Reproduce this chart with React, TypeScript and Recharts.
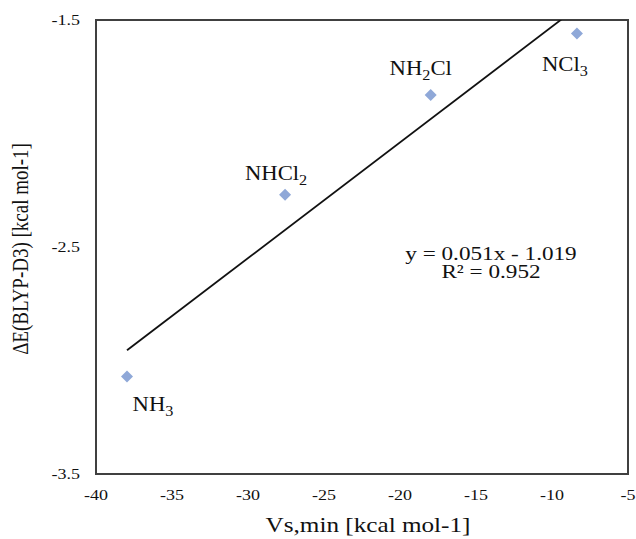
import {
    ScatterChart,
    Scatter,
    XAxis,
    YAxis,
    ReferenceLine,
    ReferenceArea,
    LabelList
} from 'recharts';

// Vs,min values and energies
const names = ['NH_3', 'NHCl_2', 'NH_2Cl', 'NCl_3'];
const vsMin = [-37.96, -27.56, -17.98, -8.36];
const deltaE = [-3.07, -2.27, -1.83, -1.56];

const xTicks = [-40, -35, -30, -25, -20, -15, -10, -5];
const yTicks = [-3.5, -2.5, -1.5];

// linear trendline as printed on the chart
const slope = 0.051;
const intercept = -1.019;
const eqText = 'y = 0.051x - 1.019';
const r2Text = 'R² = 0.952';

// where each label sits relative to its point (px)
const labelOffsets = [
    [26, 28],
    [-9, -22],
    [-10, -27],
    [-12, 30]
];

const data = names.map((name, i) => ({ name, x: vsMin[i], y: deltaE[i], idx: i }));

const xMin = Math.min(...vsMin);
const xMax = Math.max(...vsMin);
const trend = [
    { x: xMin, y: slope * xMin + intercept },
    { x: xMax, y: slope * xMax + intercept }
];

const font = '"Liberation Serif", "Times New Roman", serif';

// the source image is a bit wider than tall, so text gets stretched sideways
const SText = ({ x, y, sx = 1.2, sy = 1, size = 20, anchor = 'middle', rotate = 0, dy, children }: any) => (
    <text
        transform={`translate(${x},${y}) rotate(${rotate}) scale(${sx},${sy})`}
        textAnchor={anchor}
        fontFamily={font}
        fontSize={size}
        fill='#111'
        dy={dy}
    >
        {children}
    </text>
);

const XTick = (props: any) => (
    <SText x={props.x} y={props.y} size={15} dy='0.71em'>
        {props.payload.value}
    </SText>
);

const YTick = (props: any) => (
    <SText x={props.x} y={props.y} size={15} anchor='end' dy='0.35em'>
        {props.payload.value}
    </SText>
);

const Diamond = (props: any) => {
    const { cx, cy } = props;
    const r = 6;
    return (
        <path
            d={`M${cx},${cy - r}L${cx + r},${cy}L${cx},${cy + r}L${cx - r},${cy}Z`}
            fill='#8FA8D8'
        />
    );
};

const ChemLabel = (props: any) => {
    const { x, y, width, height, value, index } = props;
    const cx = x + (width || 0) / 2;
    const cy = y + (height || 0) / 2;
    const [dx, dy] = labelOffsets[index];
    const [head, rest] = String(value).split('_');
    const sub = rest.charAt(0);
    const tail = rest.slice(1);
    return (
        <SText x={cx + dx} y={cy + dy + 7} size={21} sx={1.08}>
            <tspan>{head}</tspan>
            <tspan dy={5} fontSize={15}>{sub}</tspan>
            {tail && <tspan dy={-5}>{tail}</tspan>}
        </SText>
    );
};

export default function App() {
    return (
        <div style={{ position: 'absolute', left: 0, top: 0, background: '#fff' }}>
            <ScatterChart
                width={636}
                height={539}
                margin={{ top: 20, right: 8, bottom: 35, left: 40 }}
            >
                <XAxis
                    type='number'
                    dataKey='x'
                    domain={[-40, -5]}
                    ticks={xTicks}
                    axisLine={false}
                    tickLine={false}
                    tickSize={6}
                    tickMargin={9}
                    height={30}
                    tick={<XTick />}
                />
                <YAxis
                    type='number'
                    dataKey='y'
                    domain={[-3.5, -1.5]}
                    ticks={yTicks}
                    allowDataOverflow
                    axisLine={false}
                    tickLine={false}
                    tickSize={6}
                    tickMargin={10}
                    width={56}
                    tick={<YTick />}
                />
                <ReferenceArea
                    x1={-40}
                    x2={-5}
                    y1={-3.5}
                    y2={-1.5}
                    fill='none'
                    stroke='#404040'
                    strokeWidth={2}
                    fillOpacity={0}
                />
                <ReferenceLine
                    segment={trend}
                    stroke='#111'
                    strokeWidth={1.8}
                    ifOverflow='hidden'
                />
                <Scatter data={data} shape={<Diamond />} isAnimationActive={false}>
                    <LabelList dataKey='name' content={<ChemLabel />} />
                </Scatter>
                <SText x={491} y={260} size={19} sx={1.22}>{eqText}</SText>
                <SText x={491} y={278} size={19} sx={1.22}>{r2Text}</SText>
                <SText x={368} y={532} size={21} sx={1.2}>Vs,min [kcal mol-1]</SText>
                <SText x={28} y={249} size={19} sx={1} sy={1.2} rotate={-90}>
                    ΔE(BLYP-D3) [kcal mol-1]
                </SText>
            </ScatterChart>
        </div>
    );
}
